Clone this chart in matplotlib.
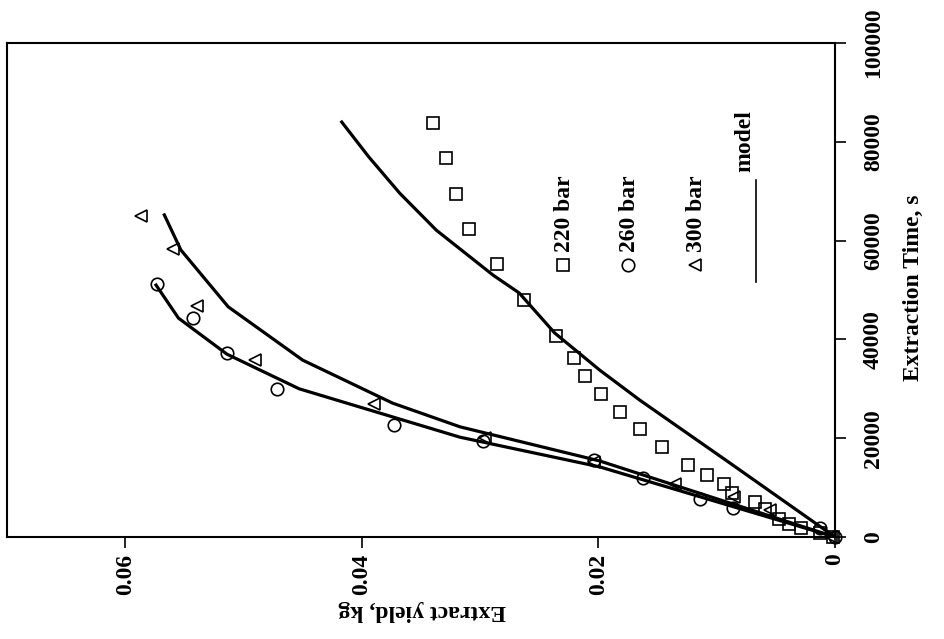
import matplotlib
matplotlib.use("Agg")
import matplotlib.pyplot as plt

plt.rcParams["font.family"] = "Liberation Serif"
plt.rcParams["font.weight"] = "bold"

# extraction data: yield (kg) vs time (s)
t_220 = [83800, 76700, 69400, 62300, 55300, 48000, 40700, 36200, 32600, 28900,
         25300, 21900, 18200, 14600, 12600, 10700, 8900, 7100, 5700, 3600,
         2600, 1800, 800, 0]
y_220 = [0.0340, 0.0329, 0.0320, 0.0309, 0.0286, 0.0263, 0.0236, 0.0221,
         0.0211, 0.0198, 0.0182, 0.0165, 0.0146, 0.0124, 0.0108, 0.0094,
         0.0087, 0.0068, 0.0059, 0.0047, 0.0039, 0.0029, 0.0013, 0.0002]

t_260 = [51200, 44300, 37200, 30000, 22700, 19400, 15600, 11900, 7700, 5900,
         1800, 0]
y_260 = [0.0573, 0.0543, 0.0514, 0.0472, 0.0373, 0.0298, 0.0204, 0.0162,
         0.0114, 0.0086, 0.0013, 0.0]

t_300 = [65000, 58300, 46800, 35800, 26900, 20000, 15200, 10700, 8100, 5500, 0]
y_300 = [0.0587, 0.0560, 0.0539, 0.0490, 0.0390, 0.0296, 0.0204, 0.0135,
         0.0085, 0.0055, 0.0003]

# model curves
tm_220 = [84000, 76900, 69600, 62100, 53000, 49400, 41300, 33800, 27700, 15000, 0]
ym_220 = [0.0417, 0.0394, 0.0368, 0.0337, 0.0289, 0.0267, 0.0237, 0.0199,
          0.0165, 0.0089, 0.0]
tm_260 = [51000, 44300, 37000, 30000, 20200, 14200, 0]
ym_260 = [0.0574, 0.0555, 0.0514, 0.0453, 0.0317, 0.0199, 0.0]
tm_300 = [65200, 58100, 46600, 35800, 27100, 22300, 15400, 0]
ym_300 = [0.0567, 0.0553, 0.0513, 0.0450, 0.0374, 0.0317, 0.0199, 0.0]

xticks = [0, 0.02, 0.04, 0.06]
xtick_labels = ["0", "0.02", "0.04", "0.06"]
yticks = [0, 20000, 40000, 60000, 80000, 100000]
ytick_labels = ["0", "20000", "40000", "60000", "80000", "100000"]

fig = plt.figure(figsize=(9.45, 6.39), dpi=100)
ax = fig.add_axes([7 / 945, 1 - 537 / 639, 828 / 945, 494 / 639])

mk = dict(linestyle="none", markerfacecolor="none", markeredgecolor="black",
          markeredgewidth=1.2, markersize=9, clip_on=False)
ax.plot(ym_220, tm_220, color="black", lw=2.3)
ax.plot(ym_260, tm_260, color="black", lw=2.3)
ax.plot(ym_300, tm_300, color="black", lw=2.3)
ax.plot(y_220, t_220, marker="s", **mk)
ax.plot(y_260, t_260, marker="o", **mk)
ax.plot(y_300, t_300, marker="<", **mk)

ax.set_xlim(0.07, 0)
ax.set_ylim(0, 100000)
ax.set_xticks(xticks)
ax.set_xticklabels(xtick_labels, rotation=90, fontsize=17, fontweight="bold")
ax.yaxis.tick_right()
ax.set_yticks(yticks)
ax.set_yticklabels(ytick_labels, rotation=90, fontsize=17, fontweight="bold",
                   va="center")
ax.tick_params(axis="x", direction="out", length=8, width=1.2, pad=4)
ax.tick_params(axis="y", direction="out", length=8, width=1.2, pad=12)
for s in ax.spines.values():
    s.set_linewidth(1.5)

# axis titles, turned with the chart
fig.text(913 / 945, 1 - 288 / 639, "Extraction Time, s", rotation=90,
         ha="center", va="center", fontsize=17, fontweight="bold")
fig.text(422 / 945, 1 - 611 / 639, "Extract yield, kg", rotation=180,
         ha="center", va="center", fontsize=17, fontweight="bold")

# legend drawn sideways
legend = [("s", "220 bar", 0.6715), ("o", "260 bar", 0.750), ("<", "300 bar", 0.831)]
for m, label, x in legend:
    ax.plot([x], [0.551], marker=m, transform=ax.transAxes, **mk)
    ax.text(x + 0.002, 0.577, label, transform=ax.transAxes, rotation=90,
            ha="center", va="bottom", fontsize=17, fontweight="bold")
ax.text(0.891, 0.739, "model", transform=ax.transAxes, rotation=90,
        ha="center", va="bottom", fontsize=17, fontweight="bold")
ax.plot([0.9046, 0.9046], [0.516, 0.723], color="black", lw=1.2,
        transform=ax.transAxes)

fig.savefig("out.png", dpi=100)
